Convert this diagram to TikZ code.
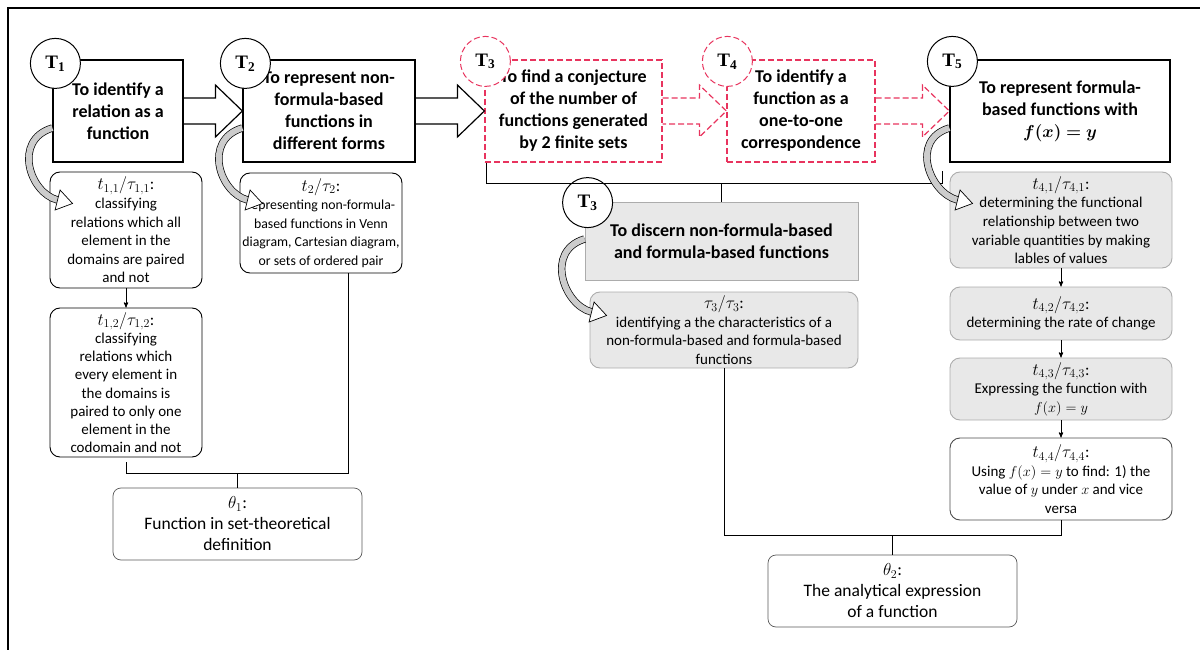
\documentclass[tikz,border=0pt]{standalone}
\usepackage{fontspec}
\setmainfont{Carlito}
\newfontfamily\tagfont{Liberation Serif}
\usepackage{bm}
\usetikzlibrary{arrows,calc,positioning}
\definecolor{dashred}{HTML}{E8345E}
\tikzset{
    task/.style={
           rectangle,
           draw=black, line width=1.2pt,
           fill=white,
           align=center,
           inner sep=2pt,
           font=\fontsize{18}{22}\selectfont\bfseries,
           },
    sub/.style={
           rectangle,
           rounded corners=10pt,
           draw=black, line width=0.9pt,
           fill=white,
           align=center,
           inner sep=1pt,
           font=\fontsize{15}{18.6}\selectfont,
           },
    tag/.style={
           circle,
           draw=black, line width=1pt,
           fill=white,
           minimum size=50pt,
           inner sep=0pt,
           font=\tagfont\fontsize{19}{19}\selectfont\bfseries,
           },
    redline/.style={draw=dashred, dash pattern=on 6pt off 3pt},
    graybox/.style={fill=gray!18, draw=gray!65},
    bigarrow/.style={
           line width=1.2pt, line join=miter,
           to path={([yshift=13pt]\tikztostart)
             -- ([xshift=-27pt,yshift=13pt]\tikztotarget)
             -- ([xshift=-27pt,yshift=26pt]\tikztotarget)
             -- (\tikztotarget)
             -- ([xshift=-27pt,yshift=-26pt]\tikztotarget)
             -- ([xshift=-27pt,yshift=-13pt]\tikztotarget)
             -- ([yshift=-13pt]\tikztostart)},
           },
    bendband/.style={double=gray!40, double distance=6pt, line width=0.7pt},
}
% head of a bent arrow, at a named coordinate
\newcommand{\bendhead}[1]{\draw[line width=0.7pt,fill=white]
  ($(#1)+(-2.5,10)$) -- ($(#1)+(15,3.5)$) -- ($(#1)+(2.5,-10)$) -- cycle;}
% first line of a technique box
\newcommand{\tline}[1]{{\fontsize{16.5}{18.6}\selectfont$#1$:}}

\begin{document}
\begin{tikzpicture}[x=1pt,y=-1pt,->,>=stealth']
 \useasboundingbox (0,0) rectangle (1200,650);
 \draw[-,line width=1.5pt] (8,650) -- (8,8) -- (1200,8);

 % TASKS, top row
 \node[task,minimum width=130pt,minimum height=102pt] (T1) at (118,111)
 {To identify a\\relation as a\\function};
 \node[task,minimum width=172pt,minimum height=102pt] (T2) at (329,111)
 {To represent non-\\formula-based\\functions in\\different forms};
 \node[task,redline,minimum width=177pt,minimum height=102pt] (T3) at (573.5,111)
 {To find a conjecture\\of the number of\\functions generated\\by 2 finite sets};
 \node[task,redline,minimum width=148pt,minimum height=102pt] (T4) at (801,111)
 {To identify a\\function as a\\one-to-one\\correspondence};
 \node[task,minimum width=220pt,minimum height=102pt] (T5) at (1060,111)
 {To represent formula-\\based functions with\\$\bm{f(x)=y}$};

 % block arrows between the tasks
 \draw[-,bigarrow] (T1.east) to (T2.west);
 \draw[-,bigarrow] (T2.east) to (T3.west);
 \draw[-,bigarrow,redline] (T3.east) to (T4.west);
 \draw[-,bigarrow,redline] (T4.east) to (T5.west);

 % TASK T3 (second one)
 \node[task,graybox,line width=0.8pt,minimum width=273pt,minimum height=78pt] (T3b) at (721.5,241)
 {To discern non-formula-based\\and formula-based functions};

 % TECHNIQUES
 \node[sub,minimum width=152pt,minimum height=116pt] (t11) at (126,230)
 {\tline{t_{1,1}/\tau_{1,1}}\\classifying\\relations which all\\element in the\\domains are paired\\and not};
 \node[sub,minimum width=152pt,minimum height=149pt,font=\fontsize{15}{18.2}\selectfont] (t12) at (126,382.5)
 {\tline{t_{1,2}/\tau_{1,2}}\\classifying\\relations which\\every element in\\the domains is\\paired to only one\\element in the\\codomain and not};
 \node[sub,minimum width=162pt,minimum height=100pt,font=\fontsize{13.8}{18.5}\selectfont] (t2) at (321,223)
 {\tline{t_2/\tau_2}\\representing non-formula-\\based functions in Venn\\diagram, Cartesian diagram,\\or sets of ordered pair};
 \node[sub,graybox,minimum width=268pt,minimum height=76pt] (t3) at (724,330)
 {\tline{\tau_3/\tau_3}\\identifying a the characteristics of a\\non-formula-based and formula-based\\functions};
 \node[sub,graybox,minimum width=222pt,minimum height=96pt] (t41) at (1061,220)
 {\tline{t_{4,1}/\tau_{4,1}}\\determining the functional\\relationship between two\\variable quantities by making\\lables of values};
 \node[sub,graybox,minimum width=222pt,minimum height=53pt] (t42) at (1061,313.5)
 {\tline{t_{4,2}/\tau_{4,2}}\\determining the rate of change};
 \node[sub,graybox,minimum width=222pt,minimum height=62pt] (t43) at (1061,389)
 {\tline{t_{4,3}/\tau_{4,3}}\\Expressing the function with\\$f(x)=y$};
 \node[sub,draw=gray!60!black,minimum width=222pt,minimum height=82pt] (t44) at (1061,479)
 {\tline{t_{4,4}/\tau_{4,4}}\\Using $f(x)=y$ to find: 1) the\\value of $y$ under $x$ and vice\\versa};

 % THEORIES
 \node[sub,draw=gray!70!black,line width=0.7pt,rounded corners=8pt,
 font=\fontsize{17.5}{21}\selectfont,minimum width=249pt,minimum height=72pt] (th1) at (237.5,524)
 {$\theta_1$:\\Function in set-theoretical\\definition};
 \node[sub,draw=gray!70!black,line width=0.7pt,rounded corners=8pt,
 font=\fontsize{17.5}{21}\selectfont,minimum width=249pt,minimum height=72pt] (th2) at (892.5,591)
 {$\theta_2$:\\The analytical expression\\of a function};

 % tags on the tasks
 \node[tag] (c1) at ([xshift=3pt,yshift=-4pt]T1.north west) {T\textsubscript{1}};
 \node[tag] (c2) at ([xshift=3pt,yshift=-4pt]T2.north west) {T\textsubscript{2}};
 \node[tag,redline] (c3) at ([xshift=1pt,yshift=-2pt]T3.north west) {T\textsubscript{3}};
 \node[tag,redline] (c4) at ([xshift=1pt,yshift=-2pt]T4.north west) {T\textsubscript{4}};
 \node[tag] (c5) at ([xshift=3pt,yshift=-2pt]T5.north west) {T\textsubscript{5}};
 \node[tag] (c3b) at ([xshift=3pt,yshift=-1pt]T3b.north west) {T\textsubscript{3}};

 % steps between techniques
 \path[line width=0.9pt] (t11) edge (t12)
       (t41) edge (t42)
       (t42) edge (t43)
       (t43) edge (t44);

 % brackets down to the theories
 \draw[-,line width=0.8pt] ([yshift=-5pt]t12.south) -- ++(0,11) -| ([xshift=27pt]t2.south);
 \draw[-,line width=0.8pt] (th1.north) -- ++(0,-15);
 \draw[-,line width=0.8pt] ([xshift=2pt]T3.south west) -- ++(0,21) -- ++(456,0) -- ++(0,-13);
 \draw[-,line width=0.8pt] (T3b.north) -- ++(0,-19);
 \draw[-,line width=0.8pt] (t3.south) |- ([yshift=-15pt]t44.south) -- (t44.south);
 \draw[-,line width=0.8pt] (th2.north) -- ++(0,-20);

 % bent arrows from a task to its first technique
 \coordinate (h1) at ($(t11.west)+(8,-30)$);
 \draw[-,bendband] ([yshift=-17pt]T1.west) .. controls +(-40,12) and +(-28,-7) .. (h1);
 \bendhead{h1}
 \coordinate (h2) at ($(t2.west)+(8,-23)$);
 \draw[-,bendband] ([yshift=-17pt]T2.west) .. controls +(-40,12) and +(-28,-7) .. (h2);
 \bendhead{h2}
 \coordinate (h3) at ($(t3.west)+(2,-18)$);
 \draw[-,bendband] ([yshift=2pt]T3b.west) .. controls +(-40,12) and +(-28,-7) .. (h3);
 \bendhead{h3}
 \coordinate (h5) at ($(t41.west)+(8,-20)$);
 \draw[-,bendband] ([yshift=-17pt]T5.west) .. controls +(-40,12) and +(-28,-7) .. (h5);
 \bendhead{h5}
\end{tikzpicture}
\end{document}
